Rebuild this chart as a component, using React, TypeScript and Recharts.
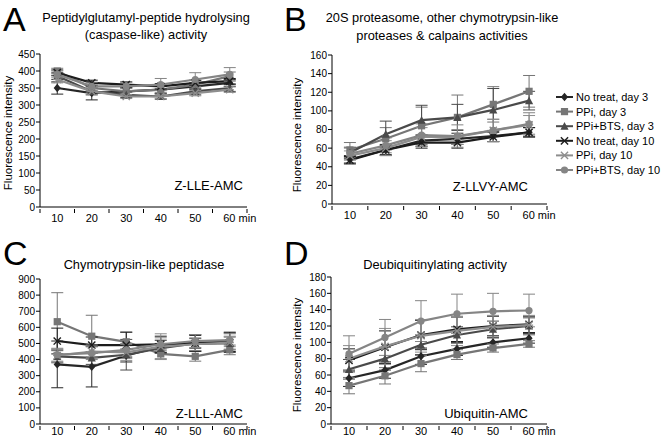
import { LineChart, Line, XAxis, YAxis, ErrorBar } from 'recharts';

const FONT = '"Liberation Sans", Arial, sans-serif';

const minutes = [10, 20, 30, 40, 50, 60];
const minuteTicks = [5, 10, 15, 20, 25, 30, 35, 40, 45, 50, 55, 60, 65];
const seriesNames = ['No treat, day 3', 'PPi, day 3', 'PPi+BTS, day 3', 'No treat, day 10', 'PPi, day 10', 'PPi+BTS, day 10'];
const seriesShapes = ['diamond', 'square', 'triangle', 'cross', 'star', 'circle'];
const seriesColors = ['#262626', '#767676', '#4a4a4a', '#1c1c1c', '#8e8e8e', '#858585'];

// A: Z-LLE-AMC
const lleMeans = [
  [350, 335, 340, 345, 355, 365],
  [400, 350, 340, 345, 360, 385],
  [385, 340, 330, 325, 340, 350],
  [395, 365, 360, 355, 365, 370],
  [375, 340, 325, 325, 335, 345],
  [390, 355, 355, 360, 375, 390],
];
const lleErrors = [
  [18, 20, 10, 10, 10, 10],
  [8, 12, 10, 10, 12, 12],
  [10, 10, 8, 8, 10, 10],
  [8, 8, 8, 8, 8, 8],
  [10, 10, 6, 6, 8, 8],
  [10, 12, 12, 18, 20, 20],
];
const lleTicks = [0, 50, 100, 150, 200, 250, 300, 350, 400, 450];

// B: Z-LLVY-AMC
const llvyMeans = [
  [48, 58, 68, 70, 73, 77],
  [58, 70, 84, 93, 107, 121],
  [55, 75, 90, 93, 101, 111],
  [47, 58, 66, 66, 72, 77],
  [52, 60, 72, 72, 79, 85],
  [54, 63, 74, 73, 79, 86],
];
const llvyErrors = [
  [4, 6, 6, 6, 6, 5],
  [8, 12, 20, 24, 19, 17],
  [6, 14, 16, 14, 23, 10],
  [4, 5, 6, 6, 5, 5],
  [5, 8, 10, 8, 12, 10],
  [6, 8, 12, 12, 12, 12],
];
const llvyTicks = [0, 20, 40, 60, 80, 100, 120, 140, 160];

// C: Z-LLL-AMC
const lllMeans = [
  [370, 355, 425, 480, 505, 510],
  [635, 545, 510, 435, 420, 460],
  [420, 410, 430, 470, 500, 500],
  [515, 490, 490, 495, 500, 505],
  [425, 450, 445, 480, 495, 505],
  [430, 440, 460, 495, 515, 520],
];
const lllErrors = [
  [145, 125, 40, 40, 50, 60],
  [180, 130, 60, 30, 30, 30],
  [40, 40, 95, 30, 30, 40],
  [80, 50, 80, 50, 50, 60],
  [40, 40, 50, 80, 40, 40],
  [40, 40, 40, 40, 40, 40],
];
const lllTicks = [0, 100, 200, 300, 400, 500, 600, 700, 800, 900];

// D: Ubiquitin-AMC
const ubqMeans = [
  [56, 66, 83, 92, 100, 105],
  [47, 59, 74, 85, 93, 98],
  [67, 80, 97, 109, 116, 120],
  [78, 94, 109, 116, 120, 122],
  [80, 95, 108, 114, 119, 121],
  [86, 106, 126, 135, 138, 139],
];
const ubqErrors = [
  [10, 10, 10, 8, 6, 6],
  [10, 10, 10, 6, 5, 4],
  [12, 14, 12, 10, 10, 10],
  [14, 20, 18, 15, 12, 10],
  [16, 22, 20, 18, 14, 12],
  [22, 22, 25, 24, 22, 20],
];
const ubqTicks = [0, 20, 40, 60, 80, 100, 120, 140, 160, 180];

function buildRows(means: number[][], errors: number[][]) {
  return minutes.map((t, i) => {
    const row: any = { t };
    means.forEach((m, s) => {
      row['s' + s] = m[i];
      row['e' + s] = errors[s][i];
    });
    return row;
  });
}

function Marker({ shape, cx, cy, color }: any) {
  const r = 3.6;
  switch (shape) {
    case 'diamond':
      return <polygon points={`${cx},${cy - r - 0.6} ${cx + r},${cy} ${cx},${cy + r + 0.6} ${cx - r},${cy}`} fill={color} />;
    case 'square':
      return <rect x={cx - r} y={cy - r} width={r * 2} height={r * 2} fill={color} />;
    case 'triangle':
      return <polygon points={`${cx},${cy - r - 0.5} ${cx + r + 0.5},${cy + r} ${cx - r - 0.5},${cy + r}`} fill={color} />;
    case 'cross':
      return (
        <g stroke={color} strokeWidth={1.4}>
          <line x1={cx - r} y1={cy - r} x2={cx + r} y2={cy + r} />
          <line x1={cx - r} y1={cy + r} x2={cx + r} y2={cy - r} />
        </g>
      );
    case 'star':
      return (
        <g stroke={color} strokeWidth={1.3}>
          <line x1={cx - r} y1={cy - r} x2={cx + r} y2={cy + r} />
          <line x1={cx - r} y1={cy + r} x2={cx + r} y2={cy - r} />
          <line x1={cx - r - 0.5} y1={cy} x2={cx + r + 0.5} y2={cy} />
        </g>
      );
    default:
      return <circle cx={cx} cy={cy} r={r} fill={color} />;
  }
}

function makeMinuteTick(offset: number) {
  return (props: any) => {
    const { x, y, payload } = props;
    const v = payload.value;
    if (v % 10 !== 0) {
      return <line x1={x} x2={x} y1={y} y2={y + 4} stroke="#000" strokeWidth={1} />;
    }
    if (v === 60) {
      return (
        <text x={x - 6.5} y={y + offset} fontSize={11} fontFamily={FONT} fill="#000">
          60 min
        </text>
      );
    }
    return (
      <text x={x} y={y + offset} textAnchor="middle" fontSize={11} fontFamily={FONT} fill="#000">
        {v}
      </text>
    );
  };
}

type PanelProps = {
  left: number;
  top: number;
  width: number;
  height: number;
  margin: { top: number; right: number; bottom: number; left: number };
  labelOffset: number;
  means: number[][];
  errors: number[][];
  yTicks: number[];
};

function Panel({ left, top, width, height, margin, labelOffset, means, errors, yTicks }: PanelProps) {
  const rows = buildRows(means, errors);
  return (
    <div style={{ position: 'absolute', left, top }}>
      <LineChart width={width} height={height} data={rows} margin={margin}>
        <XAxis
          dataKey="t"
          type="number"
          domain={[5, 65]}
          ticks={minuteTicks}
          interval={0}
          tickSize={0}
          tickLine={false}
          height={20}
          axisLine={{ stroke: '#000', strokeWidth: 1 }}
          tick={makeMinuteTick(labelOffset)}
        />
        <YAxis
          type="number"
          domain={[0, yTicks[yTicks.length - 1]]}
          ticks={yTicks}
          interval={0}
          width={30}
          tickSize={4}
          tickMargin={1}
          axisLine={{ stroke: '#000', strokeWidth: 1 }}
          tickLine={{ stroke: '#000' }}
          tick={{ fontSize: 10, fill: '#000', fontFamily: FONT }}
        />
        {seriesNames.map((name, s) => (
          <Line
            key={name}
            name={name}
            dataKey={'s' + s}
            stroke={seriesColors[s]}
            strokeWidth={2.2}
            isAnimationActive={false}
            dot={(p: any) => <Marker key={p.index} shape={seriesShapes[s]} cx={p.cx} cy={p.cy} color={seriesColors[s]} />}
          >
            <ErrorBar dataKey={'e' + s} width={6} stroke={seriesColors[s]} strokeWidth={1} direction="y" />
          </Line>
        ))}
      </LineChart>
    </div>
  );
}

function Overlay() {
  const t = { fontFamily: FONT, fill: '#000' };
  const ylab = (x: number, y: number) => (
    <text transform={`translate(${x},${y}) rotate(-90)`} textAnchor="middle" fontSize={11.5} {...t}>
      Fluorescence intensity
    </text>
  );
  return (
    <svg width={661} height={444} style={{ position: 'absolute', left: 0, top: 0, pointerEvents: 'none' }}>
      <text x={3} y={31} fontSize={34} {...t}>A</text>
      <text x={146} y={22} fontSize={12.8} textAnchor="middle" {...t}>Peptidylglutamyl-peptide hydrolysing</text>
      <text x={146} y={39} fontSize={12.8} textAnchor="middle" {...t}>(caspase-like) activity</text>
      {ylab(12, 133)}
      <text x={243} y={190} fontSize={13} textAnchor="end" {...t}>Z-LLE-AMC</text>

      <text x={284} y={31} fontSize={34} {...t}>B</text>
      <text x={442} y={22} fontSize={12.8} textAnchor="middle" {...t}>20S proteasome, other chymotrypsin-like</text>
      <text x={442} y={40} fontSize={12.8} textAnchor="middle" {...t}>proteases &amp; calpains activities</text>
      {ylab(301, 135)}
      <text x={528} y={191} fontSize={13} textAnchor="end" {...t}>Z-LLVY-AMC</text>

      <text x={3} y={265} fontSize={34} {...t}>C</text>
      <text x={144} y={269} fontSize={12.8} textAnchor="middle" {...t}>Chymotrypsin-like peptidase</text>
      <text x={243} y={418} fontSize={13} textAnchor="end" {...t}>Z-LLL-AMC</text>

      <text x={284} y={265} fontSize={34} {...t}>D</text>
      <text x={435} y={269} fontSize={12.8} textAnchor="middle" {...t}>Deubiquitinylating activity</text>
      {ylab(301, 355)}
      <text x={528} y={418} fontSize={13} textAnchor="end" {...t}>Ubiquitin-AMC</text>

      {seriesNames.map((name, s) => {
        const y = 97 + s * 14.6;
        return (
          <g key={name}>
            <line x1={556} x2={573} y1={y} y2={y} stroke={seriesColors[s]} strokeWidth={2} />
            <Marker shape={seriesShapes[s]} cx={564.5} cy={y} color={seriesColors[s]} />
            <text x={576} y={y + 4} fontSize={11} {...t}>{name}</text>
          </g>
        );
      })}
    </svg>
  );
}

export default function App() {
  return (
    <div style={{ position: 'absolute', left: 0, top: 0, width: 661, height: 444, background: '#fff', overflow: 'hidden' }}>
      <Panel
        left={0}
        top={0}
        width={260}
        height={230}
        margin={{ top: 54, right: 13, bottom: 3, left: 10 }}
        labelOffset={13}
        means={lleMeans}
        errors={lleErrors}
        yTicks={lleTicks}
      />
      <Panel
        left={290}
        top={0}
        width={270}
        height={230}
        margin={{ top: 55, right: 13, bottom: 6, left: 12 }}
        labelOffset={13}
        means={llvyMeans}
        errors={llvyErrors}
        yTicks={llvyTicks}
      />
      <Panel
        left={0}
        top={222}
        width={260}
        height={222}
        margin={{ top: 57, right: 13, bottom: 0, left: 10 }}
        labelOffset={9}
        means={lllMeans}
        errors={lllErrors}
        yTicks={lllTicks}
      />
      <Panel
        left={290}
        top={222}
        width={270}
        height={222}
        margin={{ top: 55, right: 13, bottom: 0, left: 11 }}
        labelOffset={9}
        means={ubqMeans}
        errors={ubqErrors}
        yTicks={ubqTicks}
      />
      <Overlay />
    </div>
  );
}
